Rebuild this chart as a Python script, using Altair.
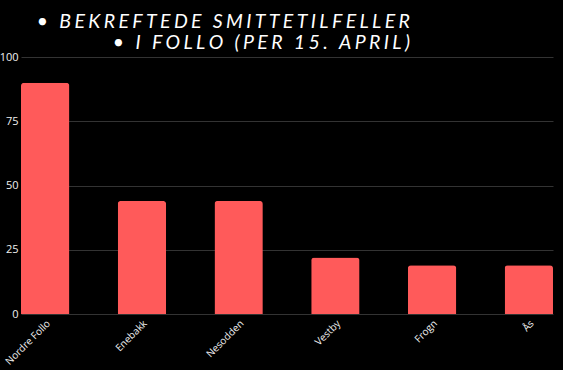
import altair as alt
import pandas as pd

kommuner = ["Nordre Follo", "Enebakk", "Nesodden", "Vestby", "Frogn", "Ås"]
tilfeller = [90, 44, 44, 22, 19, 19]
title_lines = ["• BEKREFTEDE SMITTETILFELLER", "• I FOLLO (PER 15. APRIL)"]

# widen the letter spacing with thin + hair spaces (Vega has no letterSpacing)
spaced = ["\u2009\u200a".join(line) for line in title_lines]

df = pd.DataFrame({"kommune": kommuner, "antall": tilfeller})

chart = (
    alt.Chart(df)
    .mark_bar(color="#FF5A5A", cornerRadiusTopLeft=3, cornerRadiusTopRight=3)
    .encode(
        x=alt.X(
            "kommune:N",
            sort=kommuner,
            scale=alt.Scale(paddingInner=0.5, paddingOuter=0),
            axis=alt.Axis(
                title=None,
                labelAngle=-45,
                labelAlign="right",
                labelBaseline="top",
                labelColor="#f0f0f0",
                labelFontSize=10,
                labelFont="Open Sans",
                ticks=False,
                domain=False,
                labelPadding=4,
            ),
        ),
        y=alt.Y(
            "antall:Q",
            scale=alt.Scale(domain=[0, 100]),
            axis=alt.Axis(
                title=None,
                values=[0, 25, 50, 75, 100],
                labelColor="#f0f0f0",
                labelFontSize=11,
                labelFont="Open Sans",
                ticks=False,
                domain=False,
                gridColor="#333333",
                labelPadding=3,
            ),
        ),
    )
    .properties(
        width=532,
        height=257,
        background="#000000",
        padding={"left": 21, "top": 57, "right": 10, "bottom": 56},
        autosize=alt.AutoSizeParams(type="none"),
        title=alt.TitleParams(
            text=spaced,
            color="#ffffff",
            font="Lato",
            fontStyle="italic",
            fontWeight="normal",
            fontSize=19.5,
            lineHeight=21,
            anchor="middle",
            align="right",
            dx=123,
            dy=6,
            offset=4,
        ),
    )
    .configure_view(stroke=None)
)

chart.save("out.html", embed_options={"renderer": "svg", "actions": False})
